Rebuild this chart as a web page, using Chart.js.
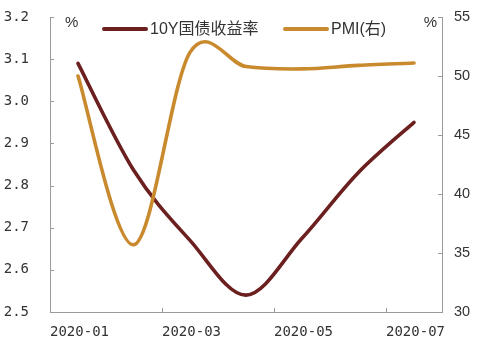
<!DOCTYPE html>
<html>
<head>
<meta charset="utf-8">
<script src="https://cdn.jsdelivr.net/npm/chart.js@4/dist/chart.umd.min.js"></script>
<style>
  html, body { margin: 0; padding: 0; background: #fff; }
  canvas { display: block; }
</style>
</head>
<body>
<canvas id="chart" width="484" height="347"></canvas>
<script>
// 月份（数据点落在每月中间）
const months = ["2020-01", "2020-02", "2020-03", "2020-04", "2020-05", "2020-06", "2020-07"];
// 10年期国债收益率 (%)
const yield10y = [3.09, 2.835, 2.67, 2.54, 2.675, 2.83, 2.95];
// 制造业PMI（右轴）
const pmi = [50.0, 35.7, 52.0, 50.8, 50.6, 50.9, 51.1];

const seriesNames = ["10Y国债收益率", "PMI(右)"];
const colors = { yield: "#6b1f1f", pmi: "#c98a2e", axis: "#9a9a9a", text: "#333333" };

const monoFont = "'DejaVu Sans Mono', 'Liberation Mono', monospace";
const sansFont = "'Liberation Sans', Arial, 'Noto Sans CJK SC', sans-serif";

const toPoints = (arr) => arr.map((v, i) => ({ x: i + 0.5, y: v }));

// 去掉坐标轴为首尾标签预留的边距，让绘图区固定
const fixSize = (w, h) => (s) => {
  if (w !== null) s.width = w;
  if (h !== null) s.height = h;
  s.paddingTop = s.paddingBottom = s.paddingLeft = s.paddingRight = 0;
};

// 均匀 Catmull-Rom 平滑（类似 Excel 的平滑线）
const smoothing = {
  id: "smoothing",
  beforeDatasetDraw(chart, args) {
    const meta = args.meta;
    const line = meta.dataset;
    line.updateControlPoints(chart.chartArea, meta.iScale.axis);
    const pts = meta.data;
    const k = 1 / 6;
    pts.forEach((p, i) => {
      const prev = pts[i - 1] || p;
      const next = pts[i + 1] || p;
      const dx = (next.x - prev.x) * k;
      const dy = (next.y - prev.y) * k;
      p.cp1x = p.x - dx; p.cp1y = p.y - dy;
      p.cp2x = p.x + dx; p.cp2y = p.y + dy;
    });
    line._path = undefined;
  },
};

// 内向刻度线、单位和图例
const decor = {
  id: "decor",
  afterDraw(chart) {
    const { ctx } = chart;
    const { x, y, y1 } = chart.scales;
    const area = chart.chartArea;
    ctx.save();
    ctx.strokeStyle = colors.axis;
    ctx.lineWidth = 1;
    ctx.beginPath();
    y.ticks.forEach((t) => {
      const py = Math.round(y.getPixelForValue(t.value)) + 0.5;
      ctx.moveTo(area.left, py);
      ctx.lineTo(area.left + 4, py);
    });
    y1.ticks.forEach((t) => {
      const py = Math.round(y1.getPixelForValue(t.value)) + 0.5;
      ctx.moveTo(area.right - 4, py);
      ctx.lineTo(area.right, py);
    });
    x.ticks.forEach((t) => {
      if (t.value % 2 !== 0) return;
      const px = Math.round(x.getPixelForValue(t.value)) + 0.5;
      ctx.moveTo(px, area.bottom - 4);
      ctx.lineTo(px, area.bottom);
    });
    ctx.stroke();

    // 单位
    ctx.fillStyle = colors.text;
    ctx.font = "15px " + sansFont;
    ctx.textBaseline = "middle";
    ctx.textAlign = "left";
    ctx.fillText("%", area.left + 15, area.top + 6);
    ctx.textAlign = "right";
    ctx.fillText("%", area.right - 5, area.top + 6);

    // 图例
    const items = [
      { label: seriesNames[0], color: colors.yield, x0: 104 },
      { label: seriesNames[1], color: colors.pmi, x0: 285 },
    ];
    const ly = area.top + 12;
    ctx.font = "16px " + sansFont;
    ctx.textAlign = "left";
    items.forEach((it) => {
      ctx.strokeStyle = it.color;
      ctx.lineWidth = 4;
      ctx.lineCap = "round";
      ctx.beginPath();
      ctx.moveTo(it.x0, ly);
      ctx.lineTo(it.x0 + 42, ly);
      ctx.stroke();
      ctx.fillStyle = colors.text;
      ctx.fillText(it.label, it.x0 + 46, ly + 1);
    });
    ctx.restore();
  },
};

new Chart(document.getElementById("chart"), {
  type: "line",
  data: {
    datasets: [
      {
        label: seriesNames[0],
        data: toPoints(yield10y),
        yAxisID: "y",
        borderColor: colors.yield,
        borderWidth: 3.6,
        borderCapStyle: "round",
        tension: 0.4,
        pointRadius: 0,
        order: 2,
      },
      {
        label: seriesNames[1],
        data: toPoints(pmi),
        yAxisID: "y1",
        borderColor: colors.pmi,
        borderWidth: 3.6,
        borderCapStyle: "round",
        tension: 0.4,
        pointRadius: 0,
        order: 1,
      },
    ],
  },
  options: {
    responsive: false,
    animation: false,
    layout: { padding: { top: 17, left: 0, right: 0, bottom: 0 } },
    plugins: { legend: { display: false }, tooltip: { enabled: false } },
    scales: {
      x: {
        type: "linear",
        min: 0,
        max: 7,
        afterFit: fixSize(null, 35),
        grid: { display: false, drawTicks: false },
        border: { display: true, color: colors.axis, width: 1 },
        ticks: {
          stepSize: 2,
          align: "start",
          maxRotation: 0,
          autoSkip: false,
          padding: 12,
          color: colors.text,
          font: { family: monoFont, size: 14 },
          callback: (v) => (v % 2 === 0 ? months[v] : ""),
        },
      },
      y: {
        position: "left",
        min: 2.5,
        max: 3.2,
        afterFit: fixSize(50, null),
        grid: { display: false, drawTicks: false },
        border: { display: true, color: colors.axis, width: 1 },
        ticks: {
          stepSize: 0.1,
          padding: 21,
          color: colors.text,
          font: { family: monoFont, size: 14 },
          callback: (v) => Number(v).toFixed(1),
        },
      },
      y1: {
        position: "right",
        min: 30,
        max: 55,
        afterFit: fixSize(42, null),
        grid: { display: false, drawTicks: false },
        border: { display: true, color: colors.axis, width: 1 },
        ticks: {
          stepSize: 5,
          padding: 12,
          color: colors.text,
          font: { family: sansFont, size: 14.5 },
        },
      },
    },
  },
  plugins: [smoothing, decor],
});
</script>
</body>
</html>
